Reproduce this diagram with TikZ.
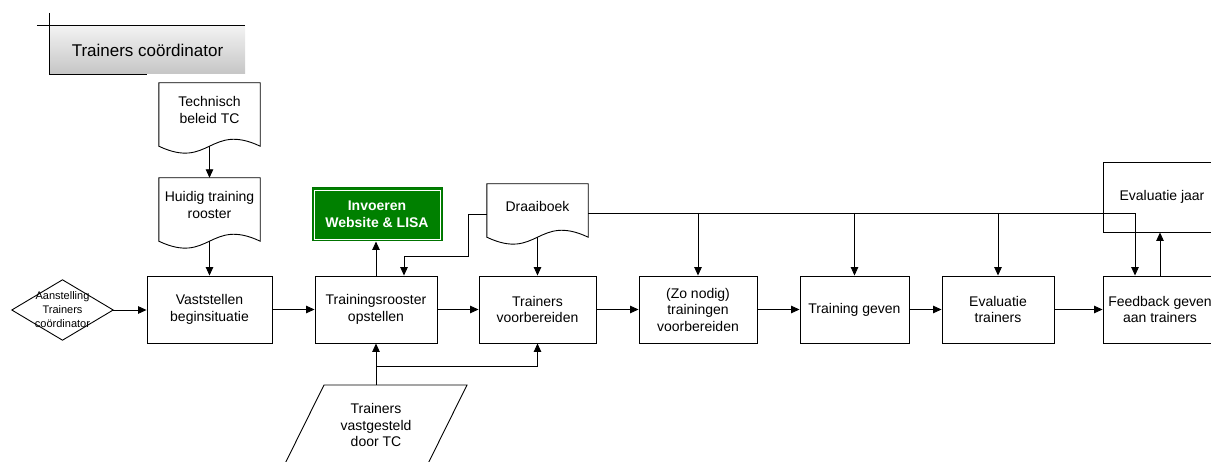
\documentclass[tikz,border=0pt]{standalone}
\usepackage{fontspec}
\setmainfont{Liberation Sans}
\usetikzlibrary{arrows.meta,calc}

\tikzset{
  line/.style={draw=black,line width=0.9pt},
  arr/.style={line,-{Triangle[length=8.5pt,width=7.5pt]}},
  txt/.style={font=\fontsize{14}{16.5}\selectfont,align=center,inner sep=0pt},
  procbox/.style={txt,line,fill=white,rectangle,minimum height=67pt},
  docnode/.style={txt,rectangle,minimum width=101pt},
  greenbox/.style={txt,font=\fontsize{14}{16.5}\selectfont\bfseries,text=white,
    fill=green!50!black,draw=green!45!black,line width=1pt,
    minimum width=130pt,minimum height=53pt},
}

% document symbol: flat top, wavy bottom below the node's south edge
\newcommand\docoutline[1]{%
  \draw[line,fill=white] (#1.north west) -- (#1.north east)
    -- ([yshift=-9pt]#1.south east)
    .. controls ([yshift=15pt]#1.south) and ([yshift=-33pt]#1.south)
    .. ([yshift=-9pt]#1.south west) -- cycle;}

\begin{document}
\begin{tikzpicture}[x=1pt,y=-1pt]
\useasboundingbox (0,0) rectangle (1211,462);
\clip (0,0) rectangle (1211,462);

% lane header
\node[rectangle,inner sep=0pt,minimum width=195pt,minimum height=48pt,
      top color=gray!10,bottom color=gray!45,
      font=\fontsize{17}{20}\selectfont] (hdr) at (147.5,50) {Trainers coördinator};
\draw[line] ([xshift=-13pt]hdr.north west) -- (hdr.north east);
\draw[line] ([yshift=13pt]hdr.north west) -- (hdr.south west) -- ([xshift=97pt]hdr.south west);

% documents
\node[docnode,minimum height=54pt] (tech) at (209.5,110) {Technisch\\beleid TC};
\docoutline{tech}
\node[docnode] at (tech) {Technisch\\beleid TC};
\node[docnode,minimum height=54pt] (huidig) at (209.5,205) {Huidig training\\rooster};
\docoutline{huidig}
\node[docnode] at (huidig) {Huidig training\\rooster};
\node[docnode,minimum height=44pt] (draai) at (537.5,206) {Draaiboek};
\docoutline{draai}
\node[docnode] at (draai) {Draaiboek};

% start event
\node[rectangle,minimum width=101pt,minimum height=60pt,inner sep=0pt] (aan) at (62.5,310) {};
\draw[line] (aan.north) -- (aan.east) -- (aan.south) -- (aan.west) -- cycle;
\node[align=center,inner sep=0pt,font=\fontsize{11}{14}\selectfont] at (aan) {Aanstelling\\Trainers\\coördinator};

% process steps
\node[procbox,minimum width=125pt] (vast) at (209.5,309.5) {Vaststellen\\beginsituatie};
\node[procbox,minimum width=122pt] (rooster) at (376,309.5) {Trainingsrooster\\opstellen};
\node[procbox,minimum width=117pt] (voorb) at (537.5,309.5) {Trainers\\voorbereiden};
\node[procbox,minimum width=118pt] (zonodig) at (698,309.5) {(Zo nodig)\\trainingen\\voorbereiden};
\node[procbox,minimum width=109pt] (geven) at (854.5,309.5) {Training geven};
\node[procbox,minimum width=112pt] (evaltr) at (998,309.5) {Evaluatie\\trainers};
\node[procbox,minimum width=114pt] (feedback) at (1160,309.5) {Feedback geven\\aan trainers};
\node[procbox,minimum width=118pt,minimum height=70pt] (evaljaar) at (1162,197) {Evaluatie jaar};

\node[greenbox] (web) at (377,214.5) {Invoeren\\Website \& LISA};
\draw[white,line width=0.8pt] ([shift={(2.5pt,-2.5pt)}]web.north west) rectangle ([shift={(-2.5pt,2.5pt)}]web.south east);

% input data
\node[rectangle,minimum height=80pt,minimum width=100pt,inner sep=0pt] (tvast) at (376,425) {};
\draw[line] (324,385) -- (467,385) -- (410,500) -- (267,500) -- cycle;
\node[txt] at (tvast) {Trainers\\vastgesteld\\door TC};

% connectors
\draw[arr] ([yshift=-9pt]tech.south) -- (huidig.north);
\draw[arr] ([yshift=-9pt]huidig.south) -- (vast.north);
\draw[arr] (aan.east) -- (aan.east -| vast.west);
\draw[arr] (vast.east) -- (rooster.west);
\draw[arr] (rooster.east) -- (voorb.west);
\draw[arr] (voorb.east) -- (zonodig.west);
\draw[arr] (zonodig.east) -- (geven.west);
\draw[arr] (geven.east) -- (evaltr.west);
\draw[arr] (evaltr.east) -- (feedback.west);
\draw[arr] (rooster.north) -- (rooster.north |- web.south);
\draw[arr] (feedback.north) -- (feedback.north |- evaljaar.south);

\coordinate (k1) at (468,256);
\draw[arr] ([yshift=-8pt]draai.west) -| (k1) -| ([xshift=28pt]rooster.north);
\draw[arr] ([yshift=-9pt]draai.south) -- (voorb.north);

\coordinate (bus) at ([yshift=-7pt]draai.east);
\draw[arr] (bus) -| ([xshift=-25pt]feedback.north);
\draw[arr] (bus -| zonodig.north) -- (zonodig.north);
\draw[arr] (bus -| geven.north) -- (geven.north);
\draw[arr] (bus -| evaltr.north) -- (evaltr.north);

\coordinate (split) at (376,366);
\draw[arr] (tvast.north) -- (rooster.south);
\draw[arr] (split) -| (voorb.south);
\end{tikzpicture}
\end{document}
